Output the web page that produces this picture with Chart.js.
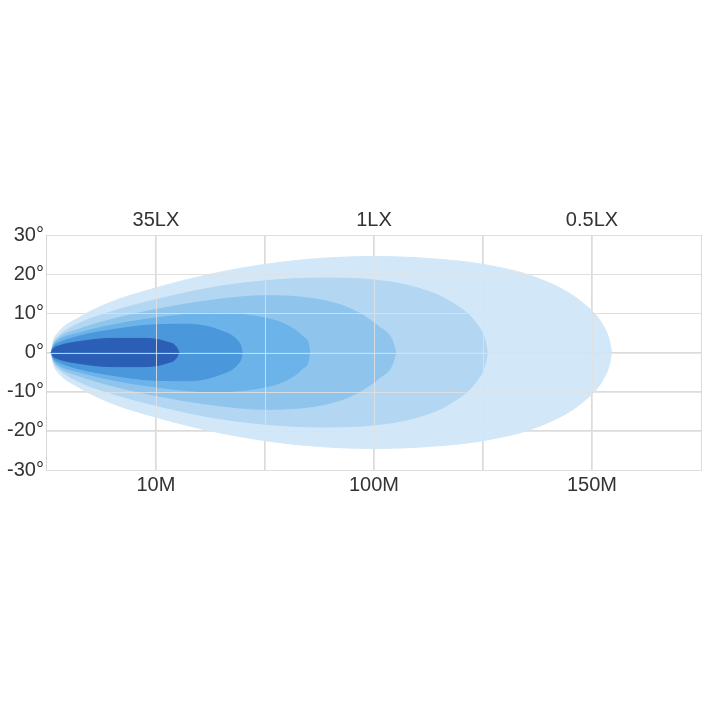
<!DOCTYPE html>
<html>
<head>
<meta charset="utf-8">
<script src="https://cdn.jsdelivr.net/npm/chart.js@4/dist/chart.umd.min.js"></script>
<style>
  html, body { margin: 0; padding: 0; background: #fff; }
  #wrap { position: absolute; left: 0; top: 205px; width: 704px; height: 295px; }
</style>
</head>
<body>
<div id="wrap"><canvas id="beam"></canvas></div>
<script>
// distance columns (x units 0..6), labels at 1,3,5
const distLabels = { 1: '10M', 3: '100M', 5: '150M' };
const luxLabels = { 1: '35LX', 3: '1LX', 5: '0.5LX' };
const angleTicks = [-30, -20, -10, 0, 10, 20, 30];

// upper outline of each beam zone [distance unit, degrees], mirrored below
const zone05 = [[0.04,0],[0.06,3],[0.1,5],[0.3,9],[0.6,13],[1,16.5],[1.5,20],[2,22.5],[2.5,24],[3,24.5],[3.5,24],[4,22.5],[4.5,19],[4.9,13],[5.1,7],[5.16,3],[5.18,0]];
const zone1  = [[0.04,0],[0.06,2.5],[0.1,4],[0.3,7.5],[0.6,10.5],[1,13.5],[1.5,16.5],[2,18.3],[2.5,19],[3,18.5],[3.4,16.5],[3.7,13],[3.95,7],[4.02,3],[4.04,0]];
const zone3  = [[0.04,0],[0.06,2],[0.1,3.5],[0.3,6],[0.6,8.5],[1,11],[1.5,13.3],[2,14.5],[2.5,13.5],[2.8,11],[3.05,6.5],[3.17,3],[3.2,0]];
const zone10 = [[0.04,0],[0.06,1.8],[0.1,3],[0.3,5],[0.6,7],[1,8.8],[1.5,10],[1.9,9.3],[2.2,7],[2.35,4],[2.4,2],[2.41,0]];
const zone20 = [[0.04,0],[0.06,1.5],[0.1,2.3],[0.3,4.2],[0.6,5.8],[1,7.1],[1.3,7.2],[1.6,5.5],[1.75,3],[1.78,1.5],[1.79,0]];
const zone35 = [[0.04,0],[0.06,1],[0.1,1.6],[0.3,2.8],[0.6,3.6],[0.9,3.6],[1.1,2.7],[1.19,1.3],[1.21,0]];

const zones = [
  { pts: zone05, color: '#d2e7f7' },
  { pts: zone1,  color: '#b3d7f2' },
  { pts: zone3,  color: '#8fc5ed' },
  { pts: zone10, color: '#6bb3e8' },
  { pts: zone20, color: '#4b97db' },
  { pts: zone35, color: '#2b5fb5' },
];

const datasets = [];
zones.forEach((z, i) => {
  const order = zones.length - i;
  for (const sign of [1, -1]) {
    datasets.push({
      data: z.pts.map(p => ({ x: p[0], y: p[1] * sign })),
      showLine: true,
      fill: 'origin',
      backgroundColor: z.color,
      borderColor: z.color,
      borderWidth: 1,
      pointRadius: 0,
      cubicInterpolationMode: 'monotone',
      order,
    });
  }
});

const tickFont = { family: 'Liberation Sans, Arial', size: 20 };
const gridColor = 'rgba(215,215,215,0.9)';

// draw grid lines over the fills, like the reference
const gridOnTop = {
  id: 'gridOnTop',
  afterDatasetsDraw(chart) {
    const { ctx, chartArea: a, scales } = chart;
    ctx.save();
    ctx.strokeStyle = 'rgba(225,225,225,0.85)';
    ctx.lineWidth = 1;
    for (let v = 1; v < 6; v++) {
      const x = Math.round(scales.x.getPixelForValue(v)) + 0.5;
      ctx.beginPath(); ctx.moveTo(x, a.top); ctx.lineTo(x, a.bottom); ctx.stroke();
    }
    for (const v of angleTicks) {
      const y = Math.round(scales.y.getPixelForValue(v)) + 0.5;
      ctx.beginPath(); ctx.moveTo(a.left, y); ctx.lineTo(a.right, y); ctx.stroke();
    }
    ctx.restore();
  }
};

new Chart(document.getElementById('beam'), {
  type: 'scatter',
  data: { datasets },
  plugins: [gridOnTop],
  options: {
    responsive: true,
    maintainAspectRatio: false,
    animation: false,
    layout: { padding: { left: 4, right: 3 } },
    plugins: { legend: { display: false }, tooltip: { enabled: false } },
    scales: {
      x: {
        type: 'linear', min: 0, max: 6,
        afterBuildTicks: (ax) => { ax.ticks = [0,1,2,3,4,5,6].map(v => ({ value: v })); },
        ticks: { autoSkip: false, color: '#333', font: tickFont, maxRotation: 0,
                 callback: (v) => distLabels[v] || '' },
        grid: { color: gridColor, drawTicks: false },
        border: { color: gridColor },
      },
      x2: {
        type: 'linear', position: 'top', min: 0, max: 6,
        afterBuildTicks: (ax) => { ax.ticks = [1,3,5].map(v => ({ value: v })); },
        ticks: { autoSkip: false, color: '#333', font: tickFont, maxRotation: 0,
                 callback: (v) => luxLabels[v] || '' },
        grid: { display: false, drawTicks: false },
        border: { color: gridColor },
      },
      y: {
        min: -30, max: 30,
        afterBuildTicks: (ax) => { ax.ticks = angleTicks.map(v => ({ value: v })); },
        ticks: { color: '#333', font: tickFont, padding: 3, callback: (v) => v + '°' },
        grid: { color: gridColor, drawTicks: false },
        border: { color: gridColor },
      },
    },
  },
});
</script>
</body>
</html>
